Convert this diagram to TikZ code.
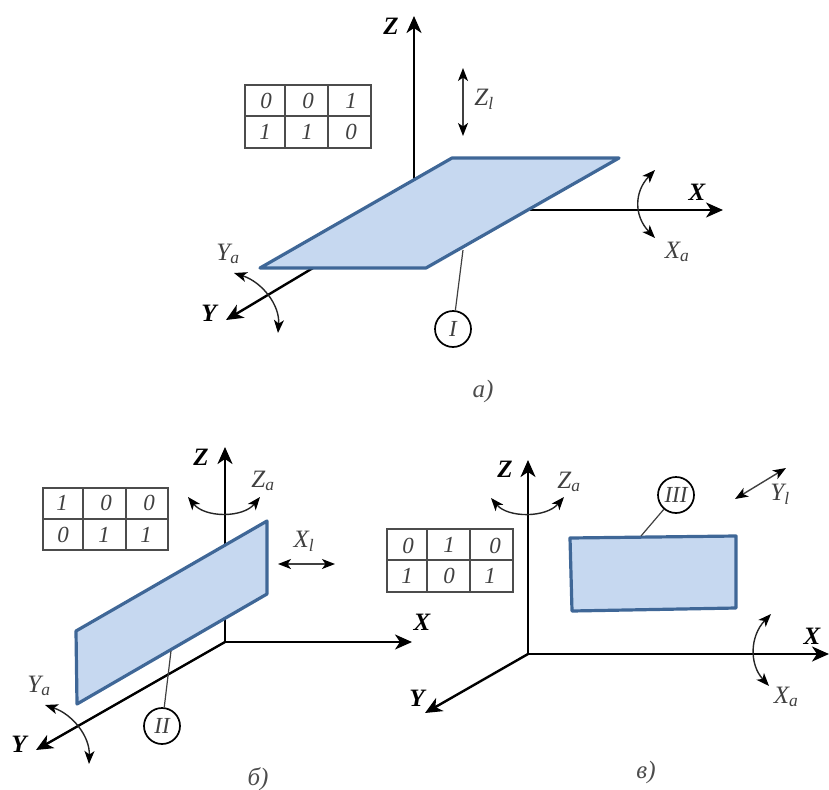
\documentclass[tikz,border=0pt]{standalone}
\usepackage{fontspec}
\setmainfont{Liberation Serif}
\usetikzlibrary{arrows.meta}
\definecolor{blue1}{HTML}{3F6797}
\definecolor{blue2}{HTML}{C6D8F0}
\tikzset{
  axis/.style={draw=black,line width=2.4pt,-{Stealth[length=17pt,width=15pt,inset=5pt]}},
  moveline/.style={draw=black!75,line width=1.4pt,{Stealth[length=13pt,width=10pt,inset=3.5pt,color=black]}-{Stealth[length=13pt,width=10pt,inset=3.5pt,color=black]}},
  arcline/.style={draw=black!85,line width=1.4pt,{Stealth[length=13pt,width=10pt,inset=3.5pt,color=black]}-{Stealth[length=13pt,width=10pt,inset=3.5pt,color=black]}},
  plane/.style={draw=blue1,fill=blue2,line width=3.2pt,line join=round},
  axlabel/.style={font=\fontsize{25}{25}\selectfont\bfseries\itshape,inner sep=0pt},
  symb/.style={font=\fontsize{25}{25}\selectfont\itshape,text=black!75,inner sep=0pt},
  tabcell/.style={font=\fontsize{23}{23}\selectfont\itshape,text=black!75,inner sep=0pt},
  tabgrid/.style={draw=black!70,line width=1.2pt},
  markcirc/.style={circle,draw=black,line width=1.7pt,minimum size=36pt,inner sep=0pt,font=\fontsize{23}{23}\selectfont\itshape,text=black!75},
  leader/.style={draw=black!75,line width=1.2pt},
  caption/.style={font=\fontsize{25}{25}\selectfont\itshape,text=black!70,inner sep=0pt}
}
\begin{document}
\begin{tikzpicture}[x=1pt,y=-1pt]
\useasboundingbox (0,0) rectangle (829,789);
% ---------- panel a
\coordinate (aZs) at (414,180); \coordinate (aZe) at (414,16);
\coordinate (aXs) at (530,210); \coordinate (aXe) at (723,210);
\coordinate (aYs) at (313,268); \coordinate (aYe) at (226,320);
\draw[axis] (aZs) -- (aZe);
\draw[axis] (aXs) -- (aXe);
\draw[axis] (aYs) -- (aYe);
\coordinate (aP1) at (452,158); \coordinate (aP2) at (619,158);
\coordinate (aP3) at (426,268); \coordinate (aP4) at (260,268);
\draw[plane] (aP1) -- (aP2) -- (aP3) -- (aP4) -- cycle;
\node[axlabel] (aZ) at (391,26) {Z};
\node[axlabel] (aX) at (697,192) {X};
\node[axlabel] (aY) at (209,313) {Y};
\draw[tabgrid] (245,85) rectangle (371,148);
\draw[tabgrid] (245,116) -- (371,116) (285,85) -- (285,148) (328,85) -- (328,148);
\node[tabcell] (a11) at (266,101) {0};
\node[tabcell] (a12) at (308,101) {0};
\node[tabcell] (a13) at (351,101) {1};
\node[tabcell] (a21) at (265,132) {1};
\node[tabcell] (a22) at (307,132) {1};
\node[tabcell] (a23) at (351,132) {0};
\coordinate (aZl1) at (463,68); \coordinate (aZl2) at (463,136);
\draw[moveline] (aZl1) -- (aZl2);
\node[symb] (aZl) at (484,99) {Z\textsubscript{l}};
\coordinate (aXa1) at (655,170); \coordinate (aXa2) at (655,238);
\draw[arcline] (aXa1) .. controls (634,192) and (634,216) .. (aXa2);
\node[symb] (aXa) at (677,252) {X\textsubscript{a}};
\coordinate (aYa1) at (234,273); \coordinate (aYa2) at (278,333);
\draw[arcline] (aYa1) .. controls (262,282) and (280,305) .. (aYa2);
\node[symb] (aYa) at (228,254) {Y\textsubscript{a}};
\node[markcirc] (aI) at (453,329) {I};
\coordinate (aL) at (463,250);
\draw[leader] (aI) -- (aL);
\node[caption] (acap) at (483,391) {а)};
% ---------- panel b
\coordinate (bO) at (225,642); \coordinate (bZ1) at (225,447);
\coordinate (bX1) at (412,642); \coordinate (bY1) at (36,750);
\draw[axis] (bO) -- (bZ1);
\draw[axis] (bO) -- (bX1);
\draw[axis] (bO) -- (bY1);
\coordinate (bP1) at (76,631); \coordinate (bP2) at (267,521);
\coordinate (bP3) at (267,594); \coordinate (bP4) at (77,704);
\draw[plane] (bP1) -- (bP2) -- (bP3) -- (bP4) -- cycle;
\node[axlabel] (bZ) at (201,457) {Z};
\node[axlabel] (bX) at (422,622) {X};
\node[axlabel] (bY) at (19,744) {Y};
\draw[tabgrid] (43,488) rectangle (168,550);
\draw[tabgrid] (43,519) -- (168,519) (83,488) -- (83,550) (126,488) -- (126,550);
\node[tabcell] (b11) at (62,503) {1};
\node[tabcell] (b12) at (106,503) {0};
\node[tabcell] (b13) at (149,503) {0};
\node[tabcell] (b21) at (63,535) {0};
\node[tabcell] (b22) at (104,535) {1};
\node[tabcell] (b23) at (146,535) {1};
\coordinate (bZa1) at (188,497); \coordinate (bZa2) at (260,497);
\draw[arcline] (bZa1) .. controls (205,518) and (243,518) .. (bZa2);
\node[symb] (bZa) at (263,481) {Z\textsubscript{a}};
\coordinate (bXl1) at (278,564); \coordinate (bXl2) at (335,564);
\draw[moveline] (bXl1) -- (bXl2);
\node[symb] (bXl) at (304,541) {X\textsubscript{l}};
\coordinate (bYa1) at (45,705); \coordinate (bYa2) at (89,764);
\draw[arcline] (bYa1) .. controls (72,714) and (90,736) .. (bYa2);
\node[symb] (bYa) at (39,686) {Y\textsubscript{a}};
\node[markcirc] (bII) at (162,726) {II};
\coordinate (bL) at (171,651);
\draw[leader] (bII) -- (bL);
\node[caption] (bcap) at (258,779) {б)};
% ---------- panel c
\coordinate (cO) at (528,654); \coordinate (cZ1) at (528,460);
\coordinate (cX1) at (829,654); \coordinate (cY1) at (425,713);
\draw[axis] (cO) -- (cZ1);
\draw[axis] (cO) -- (cX1);
\draw[axis] (cO) -- (cY1);
\coordinate (cP1) at (570,538); \coordinate (cP2) at (736,536);
\coordinate (cP3) at (736,608); \coordinate (cP4) at (572,611);
\draw[plane] (cP1) -- (cP2) -- (cP3) -- (cP4) -- cycle;
\node[axlabel] (cZ) at (505,469) {Z};
\node[axlabel] (cX) at (812,636) {X};
\node[axlabel] (cY) at (417,698) {Y};
\draw[tabgrid] (387,529) rectangle (513,592);
\draw[tabgrid] (387,560) -- (513,560) (427,529) -- (427,592) (470,529) -- (470,592);
\node[tabcell] (c11) at (408,546) {0};
\node[tabcell] (c12) at (449,545) {1};
\node[tabcell] (c13) at (495,546) {0};
\node[tabcell] (c21) at (407,576) {1};
\node[tabcell] (c22) at (449,576) {0};
\node[tabcell] (c23) at (490,576) {1};
\coordinate (cZa1) at (491,498); \coordinate (cZa2) at (564,497);
\draw[arcline] (cZa1) .. controls (508,518) and (546,518) .. (cZa2);
\node[symb] (cZa) at (569,482) {Z\textsubscript{a}};
\node[markcirc] (cIII) at (676,495) {III};
\coordinate (cL) at (641,536);
\draw[leader] (cIII) -- (cL);
\coordinate (cYl1) at (735,499); \coordinate (cYl2) at (786,468);
\draw[moveline] (cYl1) -- (cYl2);
\node[symb] (cYl) at (780,494) {Y\textsubscript{l}};
\coordinate (cXa1) at (771,614); \coordinate (cXa2) at (769,686);
\draw[arcline] (cXa1) .. controls (750,636) and (749,664) .. (cXa2);
\node[symb] (cXa) at (786,697) {X\textsubscript{a}};
\node[caption] (ccap) at (646,772) {в)};
\end{tikzpicture}
\end{document}
